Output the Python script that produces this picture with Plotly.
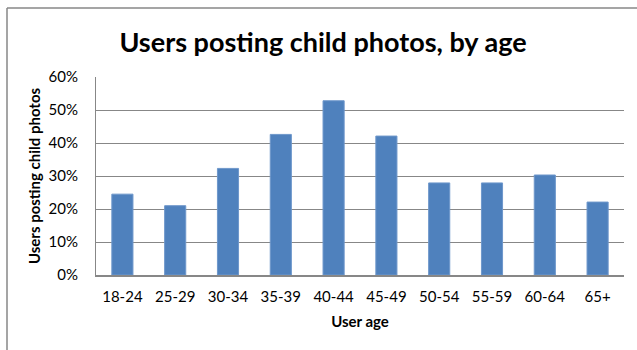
import plotly.graph_objects as go

categories = ["18-24", "25-29", "30-34", "35-39", "40-44", "45-49", "50-54", "55-59", "60-64", "65+"]
values = [0.245, 0.210, 0.323, 0.426, 0.528, 0.421, 0.279, 0.279, 0.303, 0.221]
y_ticks = [0, 0.1, 0.2, 0.3, 0.4, 0.5, 0.6]

W, H = 637, 350
L, R, T, B = 96, 13, 77, 75

fig = go.Figure(go.Bar(
    x=categories, y=values,
    marker=dict(color="#4F81BD", line=dict(color="#6E97CB", width=1)),
))

font_family = "Lato, 'Open Sans', sans-serif"
fig.update_layout(
    width=W, height=H,
    margin=dict(l=L, r=R, t=T, b=B),
    paper_bgcolor="white", plot_bgcolor="white",
    bargap=0.6,
    showlegend=False,
    font=dict(family=font_family, color="black", size=15),
    title=dict(
        text="<b>Users posting child photos, by age</b>",
        font=dict(family=font_family, size=27, color="black"),
        x=323 / W, xanchor="center", xref="container",
        y=1 - 43 / H, yanchor="middle", yref="container",
    ),
    xaxis=dict(
        title=dict(text="<b>User age</b>", font=dict(size=15), standoff=12),
        showline=True, linecolor="#878787", linewidth=2,
        ticks="", tickfont=dict(size=15),
        ticklabelstandoff=7,
        showgrid=False,
    ),
    yaxis=dict(
        range=[0, 0.6], tickvals=y_ticks, tickformat=".0%",
        showline=True, linecolor="#878787", linewidth=1,
        gridcolor="#878787", gridwidth=1,
        ticks="", tickfont=dict(size=15),
        ticklabelstandoff=14,
        title=dict(text="<b>Users posting child photos</b>", font=dict(size=15), standoff=4),
        zeroline=False,
    ),
)

# outer chart frame (only top and left edges are visible in the crop)
pw, ph = W - L - R, H - T - B
fx0 = (7 - L) / pw
fy1 = ((H - B) - 8) / ph
fig.add_shape(type="line", xref="paper", yref="paper",
              x0=fx0, x1=(W - L) / pw, y0=fy1, y1=fy1,
              line=dict(color="#878787", width=1.5))
fig.add_shape(type="line", xref="paper", yref="paper",
              x0=fx0, x1=fx0, y0=-B / ph, y1=fy1,
              line=dict(color="#878787", width=1.5))

fig.write_html(
    "out.html",
    config={"displayModeBar": False},
    post_script="document.documentElement.style.overflow='hidden';"
                "document.body.style.overflow='hidden';document.body.style.margin='0';",
)
